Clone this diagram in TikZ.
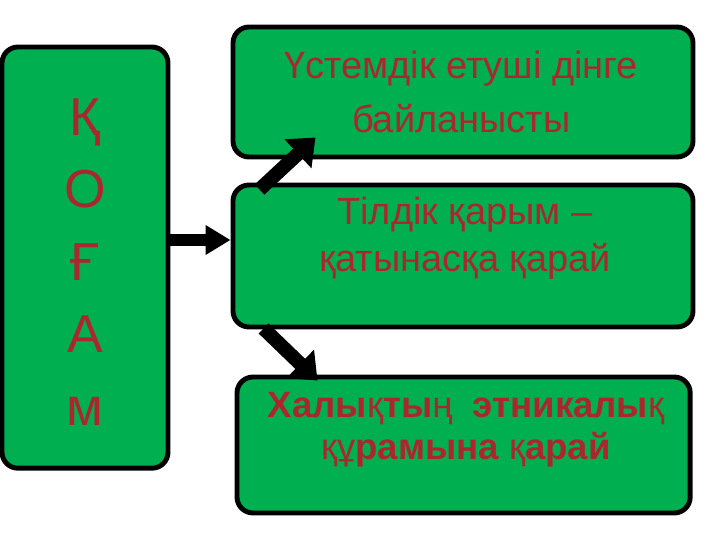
\documentclass[tikz,border=0pt]{standalone}
\usepackage{fontspec}
\setmainfont{Liberation Sans}
\usetikzlibrary{arrows.meta,calc}
\definecolor{boxgreen}{RGB}{0,176,80}
\definecolor{textred}{RGB}{170,40,45}
\tikzset{
	box/.style={draw=black, line width=3.5pt, fill=boxgreen, rounded corners=0.4cm, inner sep=0pt},
	boxtext/.style={text=textred, align=center, font=\fontsize{27}{39}\selectfont},
	fatarrow/.style={line width=9pt, -{Triangle[length=0.62cm, width=0.7cm]}},
	slantarrow/.style={line width=10pt, -{Triangle[length=0.6cm, width=0.95cm]}}
}

\begin{document}
\begin{tikzpicture}
		%%%%% START %%%%%
		
		\useasboundingbox[fill=white] (0, 0) rectangle (18, 13.5);
		
		% left column
		\node[box, minimum width=4.15cm, minimum height=10.53cm] (society) at (2.125, 7.06) {};
		\node[text=textred, align=center, font=\fontsize{38}{51.6}\selectfont] (societytext) at (2.125, 6.95) {Қ\\О\\Ғ\\А\\м};
		
		% right boxes
		\node[box, minimum width=11.5cm, minimum height=3.25cm] (religion) at (11.575, 11.2) {};
		\node[boxtext] (religiontext) at (11.53, 11.2) {Үстемдік етуші дінге\\байланысты};
		
		\node[box, minimum width=11.5cm, minimum height=3.55cm] (language) at (11.575, 7.1) {};
		\node[boxtext, font=\fontsize{27}{33.5}\selectfont] (languagetext) at (11.625, 7.55) {Тілдік қарым –\\қатынасқа қарай};
		
		\node[box, minimum width=11.33cm, minimum height=3.4cm] (ethnic) at (11.59, 2.375) {};
		\node[boxtext, font=\fontsize{26}{30}\selectfont] (ethnictext) at (11.65, 2.75) {\textbf{Халы}қ\textbf{ты}ң~ \textbf{этникалы}қ\\құ\textbf{рамына} қ\textbf{арай}};
		
		% arrows
		\draw[fatarrow] (society.east |- 0, 7.5) -- (language.west |- 0, 7.5);
		\draw[slantarrow] ($(language.north west)+(0.725, -0.175)$) -- ($(religion.south west)+(2.125, 0.55)$);
		\draw[slantarrow] ($(language.south west)+(0.825, 0.025)$) -- ($(ethnic.north west)+(2.075, -0.15)$);
		
		%%%%% END %%%%%
	\end{tikzpicture}
\end{document}
